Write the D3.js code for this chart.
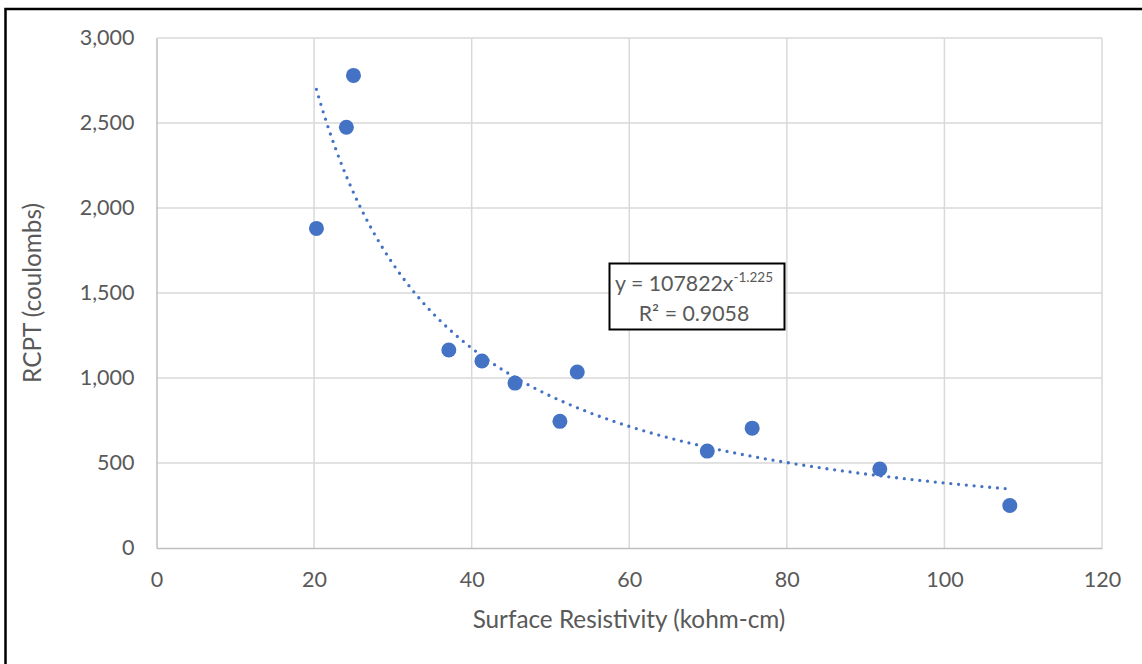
<!DOCTYPE html>
<html>
<head>
<meta charset="utf-8">
<script src="https://cdn.jsdelivr.net/npm/d3@7"></script>
<style>
  html, body { margin: 0; padding: 0; background: #fff; }
  svg { display: block; }
  text { font-family: Lato, "Open Sans", sans-serif; fill: #595959; }
</style>
</head>
<body>
<svg id="chart" width="1142" height="664"></svg>
<script>
// ---- data ----
const resistivity = [20.3, 24.1, 25.0, 37.1, 41.3, 45.5, 51.2, 53.4, 69.9, 75.6, 91.8, 108.3];
const rcpt        = [1880, 2475, 2780, 1165, 1100, 970, 745, 1035, 570, 705, 465, 250];
const xTicks = [0, 20, 40, 60, 80, 100, 120];
const yTicks = [0, 500, 1000, 1500, 2000, 2500, 3000];
const trendCoef = 107822;
const trendExp = -1.225;
const rSquared = "0.9058";
const xTitle = "Surface Resistivity (kohm-cm)";
const yTitle = "RCPT (coulombs)";

const svg = d3.select("#chart");
const blue = "#4472c4";

const x = d3.scaleLinear().domain([0, 120]).range([156.5, 1102]);
const y = d3.scaleLinear().domain([0, 3000]).range([548, 38]);

// outer border
svg.append("path").attr("d", "M5.5,664 V9 H1142")
  .attr("fill", "none").attr("stroke", "#000").attr("stroke-width", 2.5);

// gridlines
const grid = svg.append("g");
grid.selectAll("line.v").data(xTicks.filter(d => d > 0)).join("line")
  .attr("x1", d => x(d)).attr("x2", d => x(d))
  .attr("y1", y(0)).attr("y2", y(3000))
  .attr("stroke", "#d9d9d9").attr("stroke-width", 1.5);
grid.selectAll("line.h").data(yTicks.filter(d => d > 0)).join("line")
  .attr("y1", d => y(d)).attr("y2", d => y(d))
  .attr("x1", x(0)).attr("x2", x(120))
  .attr("stroke", "#d9d9d9").attr("stroke-width", 1.5);

// axes via d3 axis generators
const fmt = d3.format(",");
const xAxis = svg.append("g").attr("transform", `translate(0,${y(0)})`)
  .call(d3.axisBottom(x).tickValues(xTicks).tickSize(0).tickPadding(24).tickFormat(d3.format("d")));
const yAxis = svg.append("g").attr("transform", `translate(${x(0)},0)`)
  .call(d3.axisLeft(y).tickValues(yTicks).tickSize(0).tickPadding(22).tickFormat(fmt));
[xAxis, yAxis].forEach(g => {
  g.select(".domain").attr("stroke", "#bfbfbf").attr("stroke-width", 1.5);
  g.selectAll("text").attr("font-family", "Lato, sans-serif").attr("font-size", 21.5).attr("fill", "#595959");
});

// trendline (power fit from the displayed equation)
const xMin = d3.min(resistivity), xMax = d3.max(resistivity);
const trendPts = d3.range(0, 201).map(i => {
  const xv = xMin + (xMax - xMin) * i / 200;
  return [xv, trendCoef * Math.pow(xv, trendExp)];
});
svg.append("path").datum(trendPts)
  .attr("d", d3.line().x(d => x(d[0])).y(d => y(d[1])))
  .attr("fill", "none").attr("stroke", blue).attr("stroke-width", 3.3)
  .attr("stroke-linecap", "round").attr("stroke-dasharray", "0 7.8");

// points
svg.append("g").selectAll("circle").data(resistivity).join("circle")
  .attr("cx", d => x(d)).attr("cy", (d, i) => y(rcpt[i]))
  .attr("r", 7.5).attr("fill", blue);

// axis titles
svg.append("text").attr("x", 629).attr("y", 628).attr("text-anchor", "middle")
  .attr("font-size", 24.3).text(xTitle);
svg.append("text").attr("transform", "translate(41,293) rotate(-90)").attr("text-anchor", "middle")
  .attr("font-size", 24.3).text(yTitle);

// equation box
svg.append("rect").attr("x", 609.5).attr("y", 263.5).attr("width", 175).attr("height", 66)
  .attr("fill", "#fff").attr("stroke", "#000").attr("stroke-width", 2);
const eq = svg.append("text").attr("x", 694).attr("y", 291).attr("text-anchor", "middle").attr("font-size", 21.3);
eq.append("tspan").text(`y = ${trendCoef}x`);
eq.append("tspan").attr("font-size", 13.5).attr("dy", -9).text(trendExp.toString());
svg.append("text").attr("x", 694).attr("y", 321).attr("text-anchor", "middle").attr("font-size", 21.3)
  .text(`R² = ${rSquared}`);
</script>
</body>
</html>
